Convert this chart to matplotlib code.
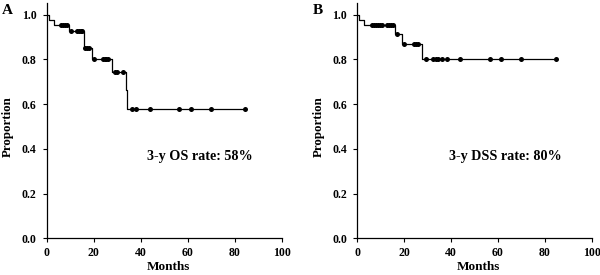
import numpy as np
import matplotlib
matplotlib.use("Agg")
import matplotlib.pyplot as plt

plt.rcParams['font.family'] = ['Liberation Serif', 'DejaVu Serif']
plt.rcParams['font.weight'] = 'bold'

# Panel A: overall survival
a_event_t = [0, 1.1, 3.3, 9.6, 16.0, 19.1, 27.7, 33.7, 34.2]
a_surv = [1.0, 0.976, 0.952, 0.925, 0.849, 0.804, 0.745, 0.663, 0.578]
a_cens = [6.2, 7.0, 7.8, 8.5, 10.2, 12.8, 13.6, 14.4, 15.2, 16.4, 17.2, 18.0,
          20.3, 23.8, 24.6, 25.4, 26.0, 29.1, 30.0, 32.4, 36.1, 38.0, 44.0,
          56.4, 61.3, 69.8, 84.5]
a_text = "3-y OS rate: 58%"

# Panel B: disease-specific survival
b_event_t = [0, 0.9, 2.8, 16.1, 18.9, 27.6]
b_surv = [1.0, 0.976, 0.952, 0.913, 0.867, 0.80]
b_cens = [6.1, 7.0, 7.9, 8.7, 9.6, 10.4, 12.5, 13.4, 14.3, 15.2, 17.1,
          19.9, 24.0, 25.0, 26.0, 29.2, 32.1, 33.4, 34.3, 36.0, 38.1,
          43.9, 56.5, 61.3, 69.7, 84.6]
b_text = "3-y DSS rate: 80%"

x_ticks = [0, 20, 40, 60, 80, 100]
y_ticks = [0.0, 0.2, 0.4, 0.6, 0.8, 1.0]

W, H = 600, 275
fig = plt.figure(figsize=(6, 2.75), dpi=100)


def panel(left_px, width_px, ev_t, surv, cens, txt, txt_x, letter, letter_px, ylab_px):
    bottom_px, top_px = 238.3, 3.3
    ax = fig.add_axes([left_px / W, (H - bottom_px) / H, width_px / W,
                       (bottom_px - top_px) / H])
    ev_t = np.asarray(ev_t)
    surv = np.asarray(surv)
    cens = np.asarray(cens)
    t_end = cens.max()
    xs = np.append(ev_t, t_end)
    ys = np.append(surv, surv[-1])
    ax.step(xs, ys, where='post', color='black', lw=0.9)
    idx = np.searchsorted(ev_t, cens, side='right') - 1
    ax.plot(cens, surv[idx], 'o', color='black', ms=3.6, mew=0)
    ax.set_xlim(0, 100)
    ax.set_ylim(0, 1.051)
    ax.set_xticks(x_ticks)
    ax.set_yticks(y_ticks)
    ax.set_xticklabels([str(v) for v in x_ticks], fontsize=8.5, fontweight='bold')
    ax.set_yticklabels([f"{v:.1f}" for v in y_ticks], fontsize=8.5, fontweight='bold')
    for s in ['top', 'right']:
        ax.spines[s].set_visible(False)
    for s in ['left', 'bottom']:
        ax.spines[s].set_linewidth(0.9)
    ax.tick_params(direction='out', length=3.2, width=0.8)
    ax.tick_params(axis='y', pad=4)
    ax.tick_params(axis='x', pad=3)
    ax.text(txt_x, 0.365, txt, fontsize=10.2, fontweight='bold', va='center', ha='left')
    fig.text(letter_px / W, (H - 11) / H, letter, fontsize=11, fontweight='bold',
             ha='left', va='center')
    fig.text(ylab_px / W, (H - 127) / H, "Proportion", fontsize=9.3, fontweight='bold',
             rotation=90, ha='center', va='center')
    fig.text((left_px + width_px / 2 + 4) / W, (H - 266.7) / H, "Months", fontsize=9.5,
             fontweight='bold', ha='center', va='center')
    return ax


panel(46.7, 235.0, a_event_t, a_surv, a_cens, a_text, 42.5, "A", 2, 8)
panel(357.3, 234.4, b_event_t, b_surv, b_cens, b_text, 39.2, "B", 313, 319)

fig.savefig("out.png", dpi=100)
